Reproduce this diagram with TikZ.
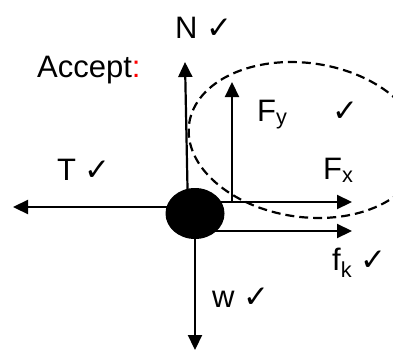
\documentclass[tikz,border=0pt]{standalone}
\usepackage{fontspec}
\setmainfont{Liberation Sans}
\newfontfamily\tickfont{DejaVu Sans}
\usetikzlibrary{arrows.meta,shapes.geometric}
\newcommand{\okmark}{{\tickfont\fontsize{31}{34}\selectfont ✓}}

\begin{document}
\begin{tikzpicture}[
			x=1pt, y=-1pt,
			force/.style={line width=2.2pt, -{Triangle[length=15pt,width=14pt]}},
			label node/.style={font=\fontsize{31}{36}\selectfont, inner sep=0pt, anchor=base west},
			ok node/.style={font=\fontsize{31}{34}\selectfont\tickfont, inner sep=0pt}
			]
			\useasboundingbox (0,0) rectangle (393,351);
			\clip (0,0) rectangle (393,351);
			
			% the body
			\node[ellipse, fill=black, minimum width=59pt, minimum height=51pt, inner sep=0pt] (ball) at (195,213.5) {};
			
			\coordinate (Ntip) at (185,62);
			\coordinate (Ttip) at (13,207);
			\coordinate (Fxtip) at (352,202);
			\coordinate (Fytip) at (232,82);
			\coordinate (fktip) at (352,231);
			\coordinate (wtip) at (195,350);
			
			\draw[force] ([xshift=-7pt]ball.center) -- (Ntip);
			\draw[force] (ball |- Ttip) -- (Ttip);
			\draw[force] (ball |- Fxtip) -- (Fxtip);
			\draw[force] (Fytip |- Fxtip) -- (Fytip);
			\draw[force] (ball |- fktip) -- (fktip);
			\draw[force] (ball) -- (wtip);
			
			% the components
			\draw[dash pattern=on 9pt off 5pt, line width=2.2pt, rotate around={-8:(305,140)}]
				(305,140) ellipse [x radius=117, y radius=77];
			
			\node[label node] (lblN) at (175,38) {N \okmark};
			\node[label node] (lblAccept) at (37,77) {Accept\textcolor{red}{:}};
			\node[label node] (lblT) at (57,180) {T \okmark};
			\node[label node] (lblFy) at (257,121) {F\textsubscript{y}};
			\node[ok node] (okFy) at (345,112) {✓};
			\node[label node] (lblFx) at (323,179) {F\textsubscript{x}};
			\node[label node] (lblfk) at (332,270) {f\textsubscript{k} \okmark};
			\node[label node] (lblw) at (212,307) {w \okmark};
		\end{tikzpicture}
\end{document}
